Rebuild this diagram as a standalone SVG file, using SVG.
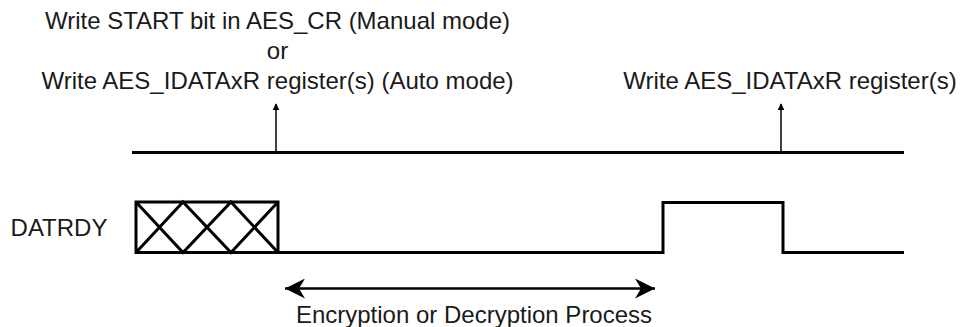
<svg xmlns="http://www.w3.org/2000/svg" width="961" height="327" viewBox="0 0 961 327">
<style>
text{font-family:"Liberation Sans",Arial,sans-serif;font-size:24px;fill:#1a1a1a}
.sig{fill:none;stroke:#000;stroke-width:3}
.thin{fill:none;stroke:#000;stroke-width:1.5}
.dbl{fill:none;stroke:#000;stroke-width:2.5}
</style>
<defs>
<marker id="ah" viewBox="0 0 10 10" refX="9" refY="5" markerWidth="7" markerHeight="9" markerUnits="userSpaceOnUse" orient="auto"><path d="M0,0 L10,5 L0,10 Z" fill="#000"/></marker>
<marker id="ah2" viewBox="0 0 20 20" refX="20" refY="10" markerWidth="22" markerHeight="20" markerUnits="userSpaceOnUse" orient="auto-start-reverse"><path d="M0,0 L20,10 L0,20 L6,10 Z" fill="#000"/></marker>
</defs>
<g id="labels">
<text x="277.5" y="29" text-anchor="middle">Write START bit in AES_CR (Manual mode)</text>
<text x="277.5" y="59" text-anchor="middle">or</text>
<text x="277.5" y="89" text-anchor="middle">Write AES_IDATAxR register(s) (Auto mode)</text>
<text x="790" y="89" text-anchor="middle">Write AES_IDATAxR register(s)</text>
<text x="59" y="236" text-anchor="middle">DATRDY</text>
<text x="474" y="323" text-anchor="middle">Encryption or Decryption Process</text>
</g>
<g id="clock">
<line class="sig" x1="132" y1="152.5" x2="904" y2="152.5"/>
</g>
<g id="datrdy">
<rect class="sig" x="136" y="202" width="142" height="50.5"/>
<path class="sig" d="M136,202 L183,252.5 L231,202 L278,252.5 M136,252.5 L183,202 L231,252.5 L278,202"/>
<path class="sig" d="M278,252.5 H663 V202.5 H783 V252.5 H904"/>
</g>
<g id="connectors">
<line class="thin" x1="276" y1="152" x2="276" y2="104" marker-end="url(#ah)"/>
<line class="thin" x1="781" y1="152" x2="781" y2="104" marker-end="url(#ah)"/>
<line class="dbl" x1="285" y1="288.5" x2="655" y2="288.5" marker-start="url(#ah2)" marker-end="url(#ah2)"/>
</g>
</svg>
